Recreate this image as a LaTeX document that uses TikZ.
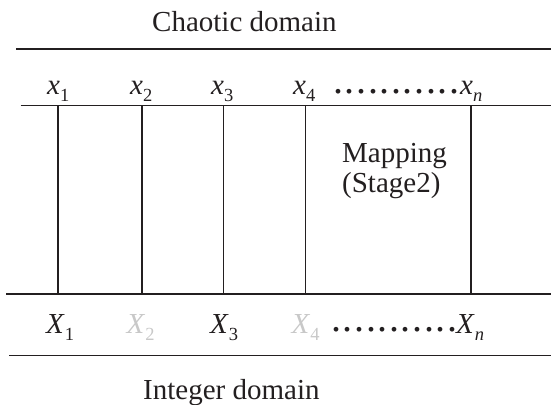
\documentclass[tikz,border=0pt]{standalone}
\usepackage{fontspec}
\setmainfont{Liberation Serif}
\definecolor{ink}{HTML}{231F20}
\definecolor{faded}{HTML}{C8C8C8}
% subscript index, lowered below the baseline
\newcommand\lowidx[1]{\raisebox{-7pt}{\fontsize{18.5}{20}\selectfont #1}}
% a row of evenly spaced dots
\newcommand\dotrow{{\fontsize{40}{40}\selectfont\foreach \k in {1,...,10}{\makebox[11.6pt][l]{.}}\makebox[4pt][l]{.}}}
\begin{document}
\begin{tikzpicture}[x=1pt,y=-1pt,
  rail/.style={line width=1.4pt,draw=ink},
  tie/.style={line width=1.4pt,draw=ink},
  txt/.style={font=\fontsize{29}{30}\selectfont,text=ink,inner sep=0pt,anchor=base west},
  idx/.style={txt},
  dim/.style={txt,text=faded}]
\useasboundingbox (0,0) rectangle (551,404);

% domain titles
\node[txt] (chaos) at (152,32) {Chaotic domain};
\node[txt] (integer) at (143,399) {Integer domain};

% horizontal rails
\coordinate (r1a) at (16,49);   \coordinate (r1b) at (551,49);
\coordinate (r2a) at (20.5,105.7); \coordinate (r2b) at (551,105.7);
\coordinate (r3a) at (6,294);   \coordinate (r3b) at (551,294);
\coordinate (r4a) at (9,355.5); \coordinate (r4b) at (551,355.5);
\draw[rail] (r1a) -- (r1b);
\draw[rail] (r2a) -- (r2b);
\draw[rail] (r3a) -- (r3b);
\draw[rail] (r4a) -- (r4b);

% chaotic values
\node[idx] (x1) at (47,94) {\textit{x}\lowidx{1}};
\node[idx] (x2) at (130,94) {\textit{x}\lowidx{2}};
\node[idx] (x3) at (211,94) {\textit{x}\lowidx{3}};
\node[idx] (x4) at (293,94) {\textit{x}\lowidx{4}};
\node[txt] (xdots) at (333,93) {\dotrow};
\node[idx] (xn) at (460,94) {\textit{x}\lowidx{\textit{n}}};

% integer values
\node[idx] (X1) at (46,333) {\textit{X}\lowidx{1}};
\node[dim] (X2) at (126.5,333) {\textit{X}\lowidx{2}};
\node[idx] (X3) at (210,333) {\textit{X}\lowidx{3}};
\node[dim] (X4) at (291.5,333) {\textit{X}\lowidx{4}};
\node[txt] (Xdots) at (331,331) {\dotrow};
\node[idx] (Xn) at (456,333) {\textit{X}\lowidx{\textit{n}}};

% mapping ties between the two rails
\foreach \c/\p in {1/58,2/142,3/223.5,4/305.5,n/470.8}{
  \coordinate (top\c) at (\p,105.7);
  \coordinate (bot\c) at (\p,294);
  \draw[tie] (top\c) -- (bot\c);
}

\node[txt,align=left] (map) at (342,192) {Mapping\\(Stage2)};
\end{tikzpicture}
\end{document}
